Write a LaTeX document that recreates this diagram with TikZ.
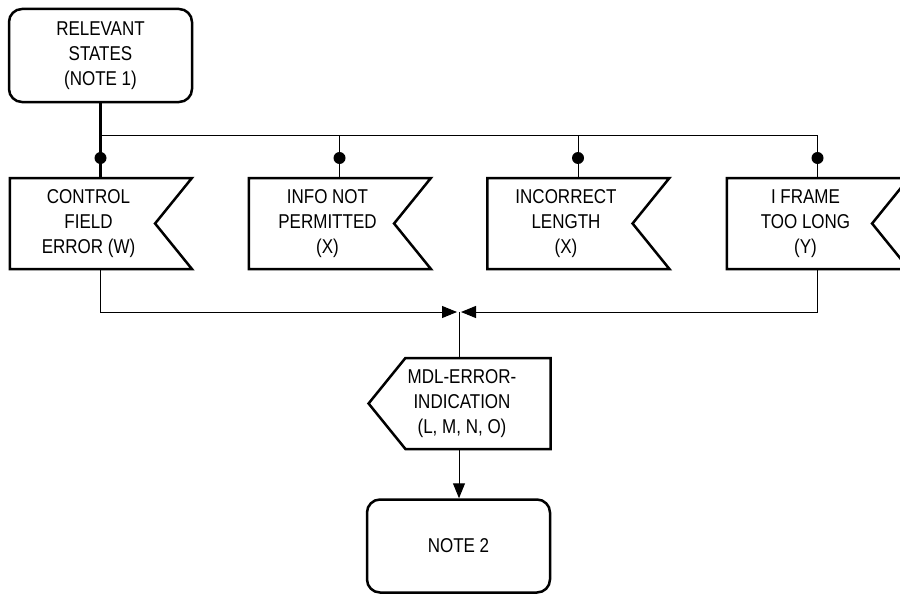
\documentclass[tikz,border=0pt]{standalone}
\usepackage{fontspec}
\setmainfont{Liberation Sans}[FakeStretch=0.85]
\usetikzlibrary{arrows.meta,shapes.symbols,positioning,calc}

\newcommand{\sdlfont}{\fontsize{20}{25}\selectfont}

\tikzset{
  state/.style={draw, line width=2.5pt, rounded corners=13pt, minimum width=183, minimum height=93, align=center, font=\sdlfont},
  insig/.style={signal, signal from=east, signal to=nowhere, signal pointer angle=102, draw, line width=2.5pt, minimum width=182, minimum height=91, inner sep=0pt},
  outsig/.style={signal, signal to=west, signal from=nowhere, signal pointer angle=102, draw, line width=2.5pt, minimum width=182, minimum height=91, inner sep=0pt},
  intext/.style={font=\sdlfont, align=center, xshift=6pt},
  outtext/.style={font=\sdlfont, align=center, xshift=-16pt},
  flow/.style={line width=1pt},
  tip/.style={-{Triangle[length=15pt,width=12pt]}},
  dot/.style={circle, fill, inner sep=0pt, minimum size=12pt}
}

\begin{document}
\begin{tikzpicture}[x=1pt,y=1pt]
  \useasboundingbox (0,0) rectangle (900,-594);

  \node[state] (rel) at (100.5,-55.5) {RELEVANT\\STATES\\(NOTE 1)};

  % input signals
  \node[insig, label={[intext]center:CONTROL\\FIELD\\ERROR (W)}] (cfe) at (82.5,-223.5) {};
  \node[insig, label={[intext]center:INFO NOT\\PERMITTED\\(X)}] (inp) at (321.5,-223.5) {};
  \node[insig, label={[intext]center:INCORRECT\\LENGTH\\(X)}] (icl) at (560,-223.5) {};
  \node[insig, label={[intext]center:I FRAME\\TOO LONG\\(Y)}] (ifl) at (799.5,-223.5) {};

  \node[outsig, label={[outtext]center:MDL-ERROR-\\INDICATION\\(L, M, N, O)}] (mdl) at (478,-403.5) {};
  \node[state] (note) at (458.5,-546) {NOTE 2};

  \coordinate (bus) at (100,-135);
  \coordinate (join) at (459,-312);

  \draw[line width=2.5pt] (rel.south) -- (rel.south |- cfe.north);
  \node[dot] (dot-cfe) at (rel.south |- 0,-158) {};
  \draw[flow] (rel.south |- bus) -- ([xshift=18pt]ifl.north |- bus);
  \foreach \n in {inp,icl,ifl} {
    \draw[flow] ([xshift=18pt]\n.north |- bus) -- ([xshift=18pt]\n.north);
    \node[dot] (dot-\n) at ([xshift=18pt]\n.north |- 0,-158) {};
  }

  \draw[flow,tip] ([xshift=18pt]cfe.south) |- ([xshift=-2pt]join);
  \draw[flow,tip] ([xshift=18pt]ifl.south) |- ([xshift=2pt]join);
  \draw[flow] (join) -- (join |- mdl.north);
  \draw[flow,tip] (mdl.south -| join) -- (note.north -| join);
\end{tikzpicture}
\end{document}
